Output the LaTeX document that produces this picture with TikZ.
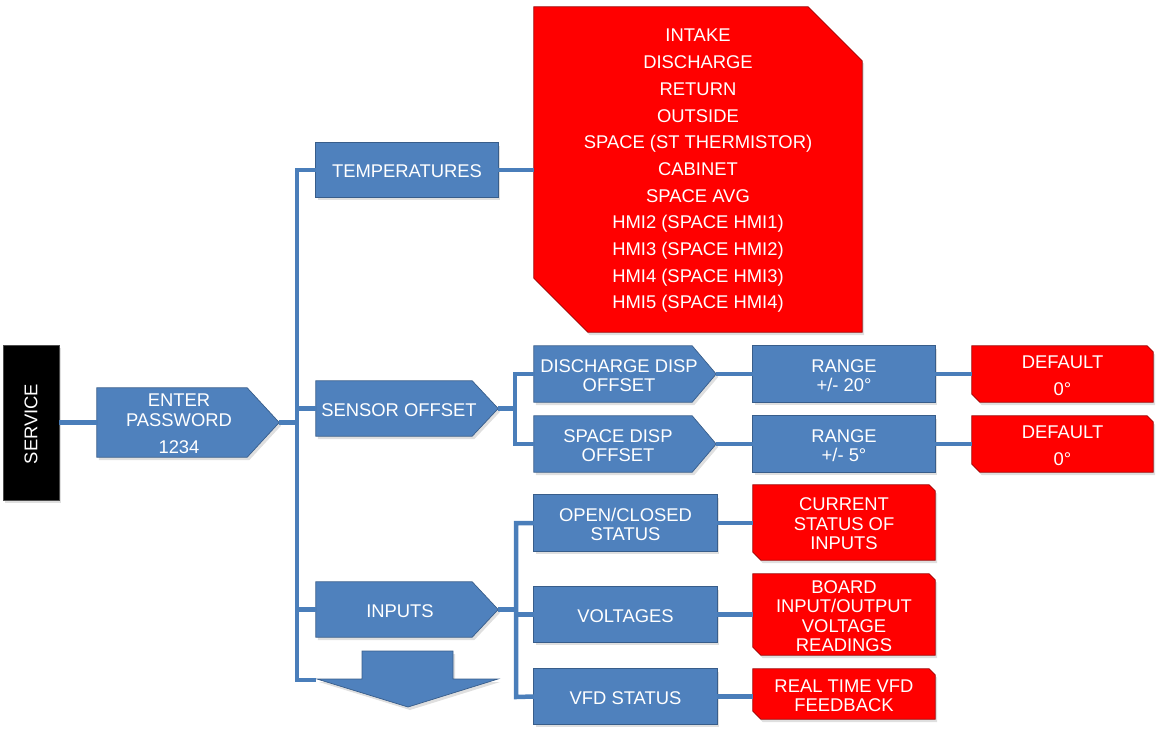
\documentclass[tikz,border=0pt]{standalone}
\usepackage{fontspec}
\setmainfont{Liberation Sans}
\usetikzlibrary{backgrounds,shadows,calc}
\definecolor{bfill}{HTML}{4F81BD}
\definecolor{bedge}{HTML}{385D8A}
\definecolor{rfill}{HTML}{FF0000}
\definecolor{redge}{HTML}{A00000}
\definecolor{lnc}{HTML}{4A7EBA}
\newcommand\fs{\fontsize{18.4}{19.5}\selectfont}
\begin{document}
\begin{tikzpicture}[x=1pt,y=-1pt,
  shd/.style={drop shadow={shadow xshift=2pt,shadow yshift=-3pt,opacity=0.25}},
  lbl/.style={inner sep=0pt,text=white,font=\fs,align=center,yshift=-1.5pt},
  holder/.style={inner sep=0pt,minimum width=#1},
  blueshape/.style={fill=bfill,draw=bedge,line width=0.7pt,shd},
  redshape/.style={fill=rfill,draw=redge,line width=0.7pt,shd},
  conn/.style={draw=lnc,line width=4.5pt}
]
\useasboundingbox (0,0) rectangle (1159,729);

% ---- box nodes ----
\node[fill=black,draw=black!70,line width=0.7pt,shd,inner sep=0pt,minimum width=56,minimum height=155] (svc) at (31,422.5) {};
\node[holder=182,minimum height=69] (pw) at (188,422.5) {};
\node[holder=182,minimum height=54] (temp) at (407,170) {};
\node[holder=182,minimum height=55] (so) at (407,408.5) {};
\node[holder=182,minimum height=55] (inp) at (407,609.5) {};
\node[holder=328,minimum height=325] (big) at (698,169.5) {};
\node[holder=182,minimum height=56] (dd) at (625,374) {};
\node[holder=182,minimum height=56] (sd) at (625,444) {};
\node[holder=182,minimum height=56] (r1) at (844,374) {};
\node[holder=182,minimum height=56] (r2) at (844,444) {};
\node[holder=181,minimum height=56] (d1) at (1062.5,374) {};
\node[holder=181,minimum height=56] (d2) at (1062.5,444) {};
\node[holder=183,minimum height=56] (oc) at (625.5,523) {};
\node[holder=183,minimum height=55] (vol) at (625.5,614.5) {};
\node[holder=183,minimum height=55] (vfd) at (625.5,696.5) {};
\node[holder=182,minimum height=75] (cs) at (844,522.5) {};
\node[holder=182,minimum height=81] (board) at (844,614.5) {};
\node[holder=182,minimum height=50] (rt) at (844,694) {};

% ---- shapes (background) ----
\begin{pgfonlayer}{background}
\foreach \n/\d in {pw/32,so/26,inp/26,dd/24,sd/24}{
  \path[blueshape] (\n.north west) -- ([xshift=-\d]\n.north east) -- (\n.east)
     -- ([xshift=-\d]\n.south east) -- (\n.south west) -- cycle;
}
\foreach \n in {temp,r1,r2,oc,vol,vfd}{
  \path[blueshape] (\n.north west) rectangle (\n.south east);
}
\foreach \n/\c/\e in {big/54/54,d1/6/8,d2/6/8,cs/6/8,board/6/8,rt/6/8}{
  \path[redshape] (\n.north west) -- ([xshift=-\c]\n.north east) -- ([yshift=-\c]\n.north east)
     -- (\n.south east) -- ([xshift=\e]\n.south west) -- ([yshift=\e]\n.south west) -- cycle;
}
\path[blueshape] (362,651) -- (453,651) -- (453,679) -- (498,679) -- (408,707)
   -- (317,679) -- (362,679) -- cycle;
\end{pgfonlayer}

% ---- texts ----
\node[lbl,rotate=90] (svcT) at (svc.center) {SERVICE};
\node[lbl] (pwT) at ([xshift=-9]pw.center) {ENTER\\PASSWORD\\[7.5pt]1234};
\node[lbl] (tempT) at (temp.center) {TEMPERATURES};
\node[lbl] (soT) at ([xshift=-8]so.center) {SENSOR OFFSET};
\node[lbl] (inpT) at ([xshift=-7]inp.center) {INPUTS};
\node[lbl,font=\fontsize{18.4}{26.7}\selectfont] (bigT) at (big.center)
  {INTAKE\\DISCHARGE\\RETURN\\OUTSIDE\\SPACE (ST THERMISTOR)\\CABINET\\SPACE AVG\\HMI2 (SPACE HMI1)\\HMI3 (SPACE HMI2)\\HMI4 (SPACE HMI3)\\HMI5 (SPACE HMI4)};
\node[lbl] (ddT) at ([xshift=-6]dd.center) {DISCHARGE DISP\\OFFSET};
\node[lbl] (sdT) at ([xshift=-7]sd.center) {SPACE DISP\\OFFSET};
\node[lbl] (r1T) at (r1.center) {RANGE\\+/- 20°};
\node[lbl] (r2T) at (r2.center) {RANGE\\+/- 5°};
\node[lbl] (d1T) at (d1.center) {DEFAULT\\[7.5pt]0°};
\node[lbl] (d2T) at (d2.center) {DEFAULT\\[7.5pt]0°};
\node[lbl] (ocT) at (oc.center) {OPEN/CLOSED\\STATUS};
\node[lbl] (volT) at (vol.center) {VOLTAGES};
\node[lbl] (vfdT) at (vfd.center) {VFD STATUS};
\node[lbl] (csT) at (cs.center) {CURRENT\\STATUS OF\\INPUTS};
\node[lbl] (boardT) at (board.center) {BOARD\\INPUT/OUTPUT\\VOLTAGE\\READINGS};
\node[lbl] (rtT) at (rt.center) {REAL TIME VFD\\FEEDBACK};

% ---- connectors ----
\coordinate (tk1) at (297,170);
\coordinate (tk2) at (297,680);
\coordinate (arrL) at (316,680);
\coordinate (st1) at (515,374);
\coordinate (st2) at (515,444);
\coordinate (it1) at (516,523);
\coordinate (it2) at (516,697);

\draw[conn] (svc.east) -- (pw.west);
\draw[conn] (pw.east) -- (pw.east -| tk1);
\draw[conn] (temp.west) -- (tk1) -- (tk2) -- (arrL);
\draw[conn] (so.west -| tk1) -- (so.west);
\draw[conn] (inp.west -| tk1) -- (inp.west);
\draw[conn] (temp.east) -- (temp.east -| big.west);

\draw[conn] (so.east) -- (so.east -| st1);
\draw[conn] (dd.west) -- (st1) -- (st2) -- (sd.west);
\draw[conn] (dd.east) -- (r1.west);
\draw[conn] (sd.east) -- (r2.west);
\draw[conn] (r1.east) -- (d1.west);
\draw[conn] (r2.east) -- (d2.west);

\draw[conn] (inp.east) -- (inp.east -| it1);
\draw[conn] (oc.west) -- (it1) -- (it2) -- (vfd.west);
\draw[conn] (vol.west -| it1) -- (vol.west);
\draw[conn] (oc.east) -- (oc.east -| cs.west);
\draw[conn] (vol.east) -- (vol.east -| board.west);
\draw[conn] (vfd.east) -- (vfd.east -| rt.west);
\end{tikzpicture}
\end{document}
